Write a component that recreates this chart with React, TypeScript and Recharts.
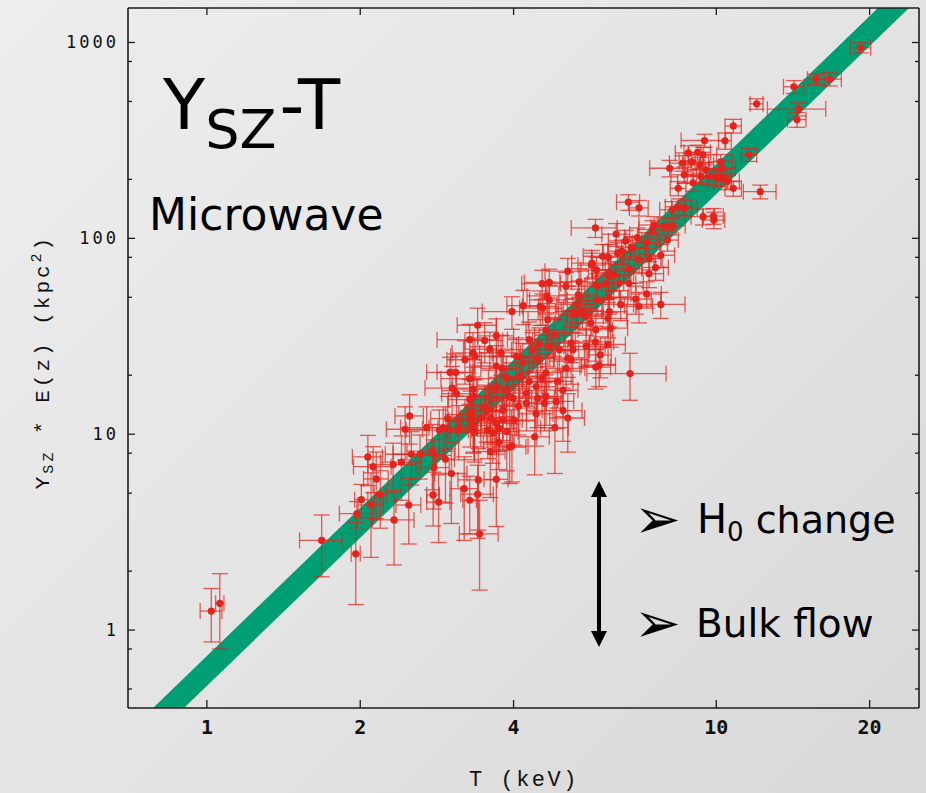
import React from "react";
import { ComposedChart, Area, Scatter, XAxis, YAxis, ErrorBar } from "recharts";

// clusters: [T (keV), Y_SZ * E(z) (kpc^2), T error, Y error]
const coolClusters: [number, number, number, number][] = [
  [1.02, 1.25, 0.05, 0.38], [1.06, 1.37, 0.02, 0.57], [1.68, 2.87, 0.16, 1.0],
  [1.96, 2.45, 0.04, 1.1], [1.97, 3.93, 0.15, 0.6], [2.01, 4.64, 0.06, 0.9],
  [2.1, 4.35, 0.12, 2.0], [2.07, 7.66, 0.14, 2.2], [2.12, 6.83, 0.18, 1.8],
  [2.15, 5.91, 0.12, 2.2], [2.19, 4.91, 0.06, 1.6], [2.33, 3.65, 0.22, 1.5],
  [2.32, 7.0, 0.25, 2.0], [2.41, 7.2, 0.22, 2.6], [2.49, 4.35, 0.14, 1.6],
  [2.52, 7.9, 0.28, 2.4], [2.62, 7.9, 0.3, 2.0], [2.5, 12.4, 0.16, 3.5],
  [2.45, 10.6, 0.2, 3.2], [2.7, 10.8, 0.3, 3.0], [2.77, 8.2, 0.3, 3.0],
  [2.79, 6.75, 0.2, 2.6], [2.94, 7.45, 0.12, 3.0], [2.97, 12.0, 0.22, 3.6],
  [2.78, 4.9, 0.08, 1.5], [2.85, 4.5, 0.15, 1.7], [3.02, 6.3, 0.22, 2.8],
  [3.2, 5.27, 0.2, 2.4], [3.28, 4.6, 0.1, 1.5], [3.4, 4.94, 0.25, 2.0],
  [3.41, 5.84, 0.3, 2.6], [3.7, 5.88, 0.2, 2.5], [3.43, 3.1, 0.3, 1.5],
  [3.6, 8.15, 0.25, 3.4], [3.74, 9.1, 0.25, 2.5], [3.88, 10.3, 0.2, 3.8],
  [3.93, 8.6, 0.3, 3.0], [3.35, 10.2, 0.35, 3.0], [3.61, 12.1, 0.35, 3.2],
  [3.75, 10.7, 0.3, 2.5], [3.33, 11.8, 0.35, 3.8], [3.51, 13.8, 0.3, 4.0],
  [2.86, 10.5, 0.4, 2.8], [2.91, 10.8, 0.18, 3.0], [3.12, 10.7, 0.28, 3.3],
];

const midClusters: [number, number, number, number][] = [
  [3.0, 20.7, 0.3, 4.0], [3.08, 20.7, 0.25, 5.0], [3.03, 17.2, 0.35, 5.0],
  [3.09, 16.1, 0.2, 4.5], [3.28, 30.4, 0.45, 6.0], [3.4, 36, 0.3, 8.0],
  [3.51, 30.1, 0.3, 7.0], [3.21, 24, 0.25, 6.0], [3.33, 26, 0.3, 7.0],
  [3.36, 25, 0.35, 6.0], [3.28, 19.2, 0.4, 5.0], [3.33, 17, 0.3, 5.0],
  [3.34, 15.6, 0.25, 4.0], [3.29, 12.6, 0.35, 4.0], [3.35, 10.4, 0.4, 3.0],
  [3.59, 27.2, 0.4, 6.0], [3.7, 31.8, 0.3, 7.0], [3.7, 22.3, 0.35, 6.0],
  [3.97, 42.3, 0.5, 8.0], [4.18, 45.3, 0.3, 9.0], [3.28, 15, 0.3, 4.0],
  [3.45, 12.1, 0.3, 3.5], [3.34, 11.1, 0.25, 3.0], [3.54, 13.1, 0.3, 4.0],
  [3.56, 10.5, 0.25, 3.0], [3.81, 11.8, 0.35, 3.5], [4.01, 11.8, 0.4, 3.0],
  [4.09, 13.9, 0.3, 4.0], [4.24, 14.4, 0.4, 4.0], [4.43, 12.7, 0.35, 4.0],
  [4.82, 10.8, 0.3, 4.5], [4.85, 14.7, 0.4, 4.0], [4.55, 19.3, 0.4, 5.0],
  [4.88, 18.6, 0.35, 5.0], [5.07, 21.7, 0.45, 5.0], [5.0, 16.8, 0.35, 4.5],
  [4.29, 18.6, 0.4, 5.0], [4.11, 19.7, 0.35, 5.0], [3.87, 19.5, 0.3, 5.5],
  [3.8, 21.7, 0.35, 5.0], [3.7, 17.5, 0.3, 4.5], [4.05, 25, 0.4, 6.0],
  [4.17, 23.1, 0.35, 6.0], [4.36, 27, 0.4, 6.0], [4.46, 24.5, 0.35, 6.0],
  [4.29, 30.4, 0.4, 7.0], [4.49, 28.9, 0.4, 6.0], [4.67, 28.1, 0.35, 6.0],
  [4.63, 34, 0.4, 7.0], [4.8, 32, 0.4, 7.0], [4.92, 27, 0.45, 6.0],
  [5.11, 24.5, 0.4, 5.0], [5.19, 29.2, 0.45, 6.0], [5.23, 27, 0.4, 6.0],
  [5.55, 28.1, 0.5, 6.0], [5.8, 22, 0.4, 5.0], [5.89, 22.5, 0.45, 5.0],
  [5.79, 29.6, 0.5, 6.0], [6.13, 28.7, 0.5, 6.0], [4.67, 38.4, 0.4, 8.0],
  [4.56, 44, 0.45, 8.0], [4.51, 44.9, 0.35, 9.0], [4.65, 50.8, 0.4, 9.0],
  [4.7, 59.6, 0.5, 10], [4.55, 58.7, 0.4, 10], [5.07, 57, 0.45, 10],
  [5.11, 68, 0.5, 11], [5.36, 51.5, 0.45, 9.0], [5.46, 42.7, 0.5, 8.0],
  [5.55, 40, 0.45, 8.0], [5.3, 40.8, 0.4, 8.0], [5.67, 37, 0.5, 7.0],
  [5.8, 34.1, 0.45, 7.0], [6.13, 39, 0.55, 8.0], [6.2, 34.8, 0.5, 7.0],
  [4.63, 15.6, 0.35, 4.5], [4.43, 17.5, 0.4, 4.5], [5.0, 13.2, 0.45, 4.0],
  [5.11, 12.1, 0.4, 4.0], [4.24, 16.2, 0.35, 4.5], [4.4, 9.7, 0.3, 3.5],
  [3.7, 11.4, 0.3, 3.5], [3.99, 15.3, 0.35, 4.0], [3.81, 13.3, 0.3, 4.0],
  [3.64, 10.1, 0.3, 3.0], [4.46, 15.3, 0.35, 4.5], [6.77, 20.4, 1.2, 5.5],
  [5.92, 25.4, 0.3, 6.0], [5.19, 24, 0.4, 6.0], [4.63, 20.6, 0.35, 5.0],
  [3.93, 15.6, 0.3, 4.0], [3.87, 16.8, 0.3, 4.5], [3.97, 8.7, 0.3, 3.0],
  [3.78, 26, 0.35, 6.0], [4.6, 14.4, 0.35, 4.0], [5.34, 46, 0.45, 9],
  [4.7, 48.5, 0.4, 9], [5.23, 42.3, 0.4, 7], [6.17, 42.3, 0.5, 7],
];

const hotClusters: [number, number, number, number][] = [
  [5.7, 74.8, 0.5, 12], [5.98, 81, 0.5, 12], [6.14, 80, 0.45, 13],
  [5.38, 60, 0.45, 10], [6.08, 59, 0.5, 10], [6.15, 50, 0.55, 9],
  [6.29, 65, 0.5, 11], [5.79, 113, 0.6, 12], [6.72, 153, 0.35, 14],
  [7.05, 143, 0.3, 13], [6.36, 105, 0.4, 14], [6.64, 97, 0.5, 13],
  [7.0, 101, 0.4, 12], [7.3, 95, 0.45, 12], [8.02, 98, 0.4, 12],
  [6.8, 90, 0.45, 12], [6.52, 86, 0.4, 12], [6.4, 84, 0.4, 11],
  [5.7, 73, 0.35, 11], [5.82, 69, 0.4, 11], [7.05, 78, 0.5, 11],
  [7.38, 79, 0.45, 10], [7.78, 82, 0.5, 11], [7.6, 71, 0.45, 10],
  [7.38, 66, 0.5, 10], [6.74, 70, 0.4, 11], [5.84, 57, 0.4, 9],
  [6.17, 64, 0.45, 10], [6.45, 59, 0.5, 9], [6.74, 59, 0.45, 9],
  [6.95, 49, 0.5, 8], [7.3, 52, 0.5, 8], [6.49, 46, 0.5, 8],
  [7.05, 45, 0.45, 8], [7.78, 46, 0.9, 7], [5.84, 48.5, 0.45, 8],
  [7.55, 117, 0.5, 12], [7.89, 115, 0.45, 12], [8.19, 116, 0.5, 12],
  [7.49, 111, 0.45, 12], [8.19, 140, 0.45, 14], [8.44, 145, 0.5, 14],
  [8.67, 143, 0.5, 13], [9.42, 129, 0.5, 12], [9.87, 130, 0.45, 12],
  [9.89, 124, 0.5, 12], [8.1, 228, 0.7, 22], [8.59, 242, 0.5, 22],
  [8.65, 211, 0.5, 20], [8.81, 273, 0.5, 24], [8.95, 246, 0.5, 22],
  [9.19, 275, 0.55, 24], [9.28, 237, 0.6, 22], [9.42, 267, 0.6, 24],
  [9.52, 224, 0.6, 20], [9.7, 207, 0.7, 20], [9.33, 207, 0.55, 20],
  [9.0, 192, 0.6, 18], [10.2, 246, 0.55, 22], [10.3, 228, 0.6, 20],
  [10.0, 206, 0.7, 20], [10.5, 195, 0.6, 18], [10.8, 180, 0.4, 16],
  [10.2, 202, 0.5, 18], [8.42, 180, 0.3, 15], [9.48, 316, 0.95, 24],
  [10.4, 315, 0.3, 30], [10.8, 375, 0.4, 30], [11.6, 267, 0.4, 20],
  [12.2, 173, 0.9, 14], [12.0, 486, 0.35, 30], [14.2, 594, 0.65, 45],
  [14.5, 457, 1.9, 35], [14.4, 404, 0.6, 35], [15.7, 650, 0.6, 40],
  [16.7, 650, 0.9, 50], [19.2, 940, 0.9, 55],
];

// fitted scaling relation band (edges at the plot limits)
const bandT = [0.7, 25];
const bandLow = [0.212, 1680];
const bandHigh = [0.301, 2390];

const xTicks = [1, 2, 4, 10, 20];
const yMajorTicks = [1, 10, 100, 1000];
const yMinorTicks = [0.5, 0.8, 2, 5, 8, 20, 50, 80, 200, 500, 800];
const yTicks = [...yMinorTicks, ...yMajorTicks].sort((a, b) => a - b);

const clusterData = [...coolClusters, ...midClusters, ...hotClusters].map(
  ([t, y, dt, dy]) => ({ t, y, dt, dy })
);
const bandData = bandT.map((t, i) => ({ t, band: [bandLow[i], bandHigh[i]] }));

const axisColor = "#1d1d1d";
const monoFont = "'DejaVu Sans Mono', monospace";
const red = "#e5221b";

function LeftTick({ x, y, payload }: any) {
  const major = yMajorTicks.includes(payload.value);
  const ax = x + 10;
  return (
    <g>
      <line x1={ax} x2={ax + (major ? 7 : 4)} y1={y} y2={y} stroke={axisColor} strokeWidth={1.3} />
      {major && (
        <text x={ax - 9} y={y + 6} textAnchor="end" fontFamily={monoFont} fontSize={17} letterSpacing={3} fill="#111">
          {payload.value}
        </text>
      )}
    </g>
  );
}

function RightTick({ x, y, payload }: any) {
  const major = yMajorTicks.includes(payload.value);
  return <line x1={x} x2={x - (major ? 7 : 4)} y1={y} y2={y} stroke={axisColor} strokeWidth={1.3} />;
}

function BottomTick({ x, y, payload }: any) {
  const ay = y - 12;
  return (
    <g>
      <line x1={x} x2={x} y1={ay} y2={ay - 8} stroke={axisColor} strokeWidth={1.3} />
      <text x={x} y={y + 14} textAnchor="middle" fontFamily={monoFont} fontWeight="bold" fontSize={20} fill="#111">
        {payload.value}
      </text>
    </g>
  );
}

function TopTick({ x, y }: any) {
  return <line x1={x} x2={x} y1={y} y2={y + 7} stroke={axisColor} strokeWidth={1.3} />;
}

const dot = (p: any) => <circle cx={p.cx} cy={p.cy} r={3.6} fill={red} />;

export default function App() {
  return (
    <div
      style={{
        position: "absolute",
        left: 0,
        top: 0,
        width: 926,
        height: 793,
        background: "linear-gradient(135deg, #ededed 0%, #e3e3e3 55%, #d8d8d8 100%)",
        overflow: "hidden",
      }}
    >
      <ComposedChart width={926} height={793} data={bandData} margin={{ top: 7, right: 6, bottom: 0, left: 0 }}>
        <XAxis
          dataKey="t"
          type="number"
          scale="log"
          domain={[0.7, 25]}
          allowDataOverflow
          ticks={xTicks}
          interval={0}
          height={85}
          tickSize={0}
          tickMargin={12}
          tickLine={false}
          tick={<BottomTick />}
          axisLine={{ stroke: axisColor, strokeWidth: 1.6 }}
        />
        <XAxis
          xAxisId="top"
          orientation="top"
          dataKey="t"
          type="number"
          scale="log"
          domain={[0.7, 25]}
          allowDataOverflow
          ticks={xTicks}
          interval={0}
          height={1}
          tickSize={0}
          tickMargin={0}
          tickLine={false}
          tick={<TopTick />}
          axisLine={{ stroke: axisColor, strokeWidth: 1.6 }}
        />
        <YAxis
          dataKey="y"
          type="number"
          scale="log"
          domain={[0.4, 1500]}
          allowDataOverflow
          ticks={yTicks}
          interval={0}
          width={128}
          tickSize={0}
          tickMargin={10}
          tickLine={false}
          tick={<LeftTick />}
          axisLine={{ stroke: axisColor, strokeWidth: 1.6 }}
        />
        <YAxis
          yAxisId="right"
          orientation="right"
          type="number"
          scale="log"
          domain={[0.4, 1500]}
          allowDataOverflow
          ticks={yTicks}
          interval={0}
          width={1}
          tickSize={0}
          tickMargin={0}
          tickLine={false}
          tick={<RightTick />}
          axisLine={{ stroke: axisColor, strokeWidth: 1.6 }}
        />
        <Area
          dataKey="band"
          type="linear"
          stroke="none"
          fill="#009e73"
          fillOpacity={1}
          dot={false}
          activeDot={false}
          isAnimationActive={false}
        />
        <Scatter data={clusterData} dataKey="y" shape={dot} isAnimationActive={false}>
          <ErrorBar dataKey="dt" direction="x" width={8} stroke={red} strokeOpacity={0.72} strokeWidth={1.3} isAnimationActive={false} />
          <ErrorBar dataKey="dy" direction="y" width={8} stroke={red} strokeOpacity={0.72} strokeWidth={1.3} isAnimationActive={false} />
        </Scatter>
      </ComposedChart>

      <svg width={926} height={793} style={{ position: "absolute", left: 0, top: 0, pointerEvents: "none" }}>
        <text x={163} y={129} fontFamily="'DejaVu Sans', sans-serif" fontSize={69} fill="#000">
          Y<tspan fontSize={54} dy={19}>SZ</tspan>
          <tspan fontSize={69} dy={-19} dx={3}>-T</tspan>
        </text>
        <text x={149} y={230} fontFamily="'DejaVu Sans', sans-serif" fontSize={44} fill="#000">
          Microwave
        </text>

        <line x1={599} x2={599} y1={494} y2={634} stroke="#000" strokeWidth={4} />
        <polygon points="599,481 591,497 607,497" fill="#000" />
        <polygon points="599,647 591,631 607,631" fill="#000" />

        <text x={634} y={538} fontFamily="'DejaVu Sans', sans-serif" fontSize={56} fill="#000">➢</text>
        <text x={697} y={533} fontFamily="'DejaVu Sans', sans-serif" fill="#000">
          <tspan fontSize={40}>H</tspan>
          <tspan fontSize={26} dy={8}>0</tspan>
          <tspan fontSize={38} dy={-8}> change</tspan>
        </text>
        <text x={634} y={642} fontFamily="'DejaVu Sans', sans-serif" fontSize={56} fill="#000">➢</text>
        <text x={696} y={637} fontFamily="'DejaVu Sans', sans-serif" fontSize={39} fill="#000">
          Bulk flow
        </text>

        <text x={524} y={786} textAnchor="middle" fontFamily="'Liberation Mono', monospace" fontSize={22} letterSpacing={2.5} fill="#111">
          T (keV)
        </text>
        <text
          transform="translate(49,362) rotate(-90)"
          textAnchor="middle"
          fontFamily="'Liberation Mono', monospace"
          fontSize={21}
          letterSpacing={3}
          fill="#111"
        >
          Y<tspan fontSize={15} dy={4}>SZ</tspan>
          <tspan fontSize={21} dy={-4}> * E(z) (kpc</tspan>
          <tspan fontSize={15} dy={-8}>2</tspan>
          <tspan fontSize={21} dy={8}>)</tspan>
        </text>
      </svg>
    </div>
  );
}
